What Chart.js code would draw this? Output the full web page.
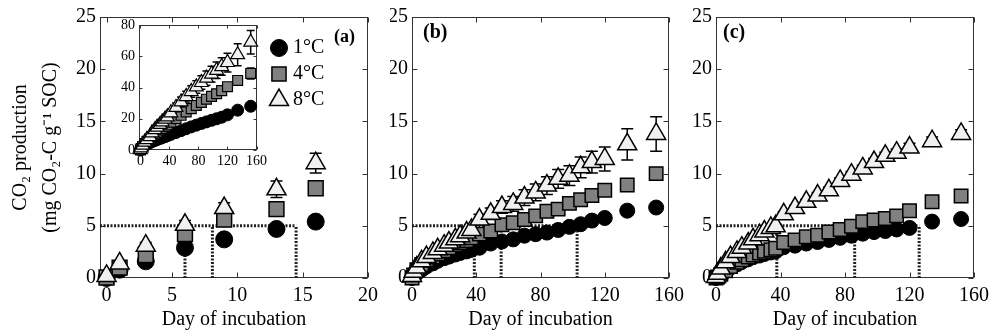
<!DOCTYPE html>
<html><head><meta charset="utf-8">
<script src="https://cdn.jsdelivr.net/npm/chart.js@4.4.0/dist/chart.umd.min.js"></script>
<style>
html,body{margin:0;padding:0;background:#fff;}
#wrap{position:relative;width:995px;height:336px;overflow:hidden;background:#fff;}
canvas{position:absolute;}
</style></head><body>
<div id="wrap">
<canvas id="ca" width="390" height="336" style="left:0;top:0"></canvas>
<canvas id="cb" width="300" height="336" style="left:390px;top:0"></canvas>
<canvas id="cc" width="305" height="336" style="left:690px;top:0"></canvas>
<canvas id="ci" width="160" height="160" style="left:110px;top:10px"></canvas>
</div>
<script>
// ---------- data ----------
const temps = ['1°C', '4°C', '8°C'];
const panelLabels = ['(a)', '(b)', '(c)'];
const yTitle = ['CO₂ production', '(mg CO₂-C g⁻¹ SOC)'];
const xTitle = 'Day of incubation';
const threshold = 5;

const xTicksA = [0, 5, 10, 15, 20];
const xTicksBC = [0, 40, 80, 120, 160];
const yTicks = [0, 5, 10, 15, 20, 25];
const xTicksInset = [0, 40, 80, 120, 160];
const yTicksInset = [0, 20, 40, 60, 80];

// panel (a): first 16 days
const daysA = [0, 1, 3, 6, 9, 13, 16];
const a1 = [0, 0.8, 1.6, 2.9, 3.7, 4.7, 5.4];
const a4 = [0.05, 1.0, 2.2, 4.2, 5.6, 6.6, 8.6];
const a8 = [0.2, 1.4, 3.1, 5.1, 6.7, 8.5, 11.0];
const a8err = [0.1, 0.2, 0.3, 0.4, 0.5, 0.8, 0.95];
const reachA = [6.0, 8.1, 14.5];

// full incubation days
const days = [0, 1, 3, 6, 9, 13, 16, 20, 23, 27, 30, 34, 37, 42, 49, 56, 63, 70, 77, 84, 91, 98, 105, 112, 120, 134, 152];

// inset of (a)
const ins1 = [0, 0.8, 1.6, 2.9, 3.7, 4.7, 5.4, 6.1, 6.7, 7.4, 7.9, 8.6, 9.1, 10.0, 11.2, 12.4, 13.6, 14.8, 15.9, 17.0, 18.0, 19.0, 20.0, 21.0, 22.5, 25.5, 28.0];
const ins4 = [0.05, 1.0, 2.2, 4.2, 5.6, 6.6, 8.6, 10.3, 11.5, 12.8, 13.8, 15.0, 16.0, 17.8, 20.0, 22.2, 24.4, 26.5, 28.5, 30.5, 32.5, 34.3, 36.0, 38.0, 40.5, 44.5, 49.0];
const ins8 = [0.2, 1.4, 3.1, 5.1, 6.7, 8.5, 11.0, 13.0, 14.6, 16.4, 18.0, 19.8, 21.2, 23.8, 27.3, 30.8, 34.2, 37.4, 40.4, 43.2, 46.0, 48.6, 51.0, 53.4, 56.0, 61.0, 69.0];
const ins4err = [0, 0.1, 0.2, 0.3, 0.3, 0.4, 0.5, 0.6, 0.6, 0.7, 0.7, 0.8, 0.8, 0.9, 1.0, 1.1, 1.2, 1.3, 1.4, 1.5, 1.6, 1.7, 1.8, 2.0, 2.2, 3.0, 3.5];
const ins8err = [0.1, 0.3, 0.4, 0.5, 0.6, 0.8, 1.0, 1.2, 1.4, 1.6, 1.8, 2.0, 2.2, 2.5, 2.8, 3.1, 3.4, 3.7, 4.0, 4.3, 4.6, 5.0, 5.3, 5.6, 6.0, 7.0, 7.5];

// panel (b)
const b1 = [0, 0.15, 0.45, 0.8, 1.1, 1.4, 1.65, 1.9, 2.05, 2.25, 2.4, 2.55, 2.7, 2.9, 3.3, 3.5, 3.7, 4.05, 4.2, 4.35, 4.6, 4.9, 5.15, 5.5, 5.75, 6.45, 6.75];
const b4 = [0, 0.3, 0.8, 1.3, 1.7, 2.0, 2.3, 2.6, 2.9, 3.2, 3.4, 3.6, 3.85, 4.2, 4.5, 5.1, 5.3, 5.6, 5.95, 6.4, 6.6, 7.15, 7.5, 7.9, 8.4, 8.9, 10.0];
const b8 = [0.2, 0.6, 1.0, 1.6, 2.0, 2.4, 2.75, 3.1, 3.4, 3.7, 4.0, 4.35, 4.6, 5.6, 6.15, 6.8, 7.1, 7.7, 8.2, 8.85, 9.5, 9.8, 10.6, 11.1, 11.4, 12.8, 13.8];
const b8err = [0.05, 0.1, 0.15, 0.2, 0.2, 0.25, 0.25, 0.3, 0.3, 0.3, 0.35, 0.35, 0.4, 0.5, 0.55, 0.6, 0.7, 0.75, 0.8, 0.85, 0.9, 0.95, 1.0, 1.05, 1.15, 1.5, 1.65];
const reachB = [38.8, 55.5, 102.8];

// panel (c)
const c1 = [0, 0.1, 0.3, 0.65, 1.0, 1.3, 1.55, 1.8, 2.0, 2.15, 2.3, 2.45, 2.55, 2.95, 3.1, 3.3, 3.45, 3.65, 3.85, 4.05, 4.25, 4.4, 4.5, 4.65, 4.8, 5.4, 5.65];
const c4 = [0, 0.1, 0.35, 0.7, 1.1, 1.5, 1.75, 2.0, 2.2, 2.4, 2.55, 2.7, 2.85, 3.4, 3.65, 3.95, 4.1, 4.4, 4.65, 4.95, 5.4, 5.55, 5.7, 5.95, 6.45, 7.3, 7.85];
const c8 = [0.1, 0.4, 0.9, 1.5, 2.0, 2.5, 2.9, 3.3, 3.7, 4.1, 4.45, 4.8, 4.95, 6.1, 6.7, 7.3, 7.9, 8.4, 9.3, 9.9, 10.5, 11.1, 11.7, 12.0, 12.5, 13.1, 13.8];
const c8err = [0.05, 0.05, 0.1, 0.1, 0.1, 0.15, 0.15, 0.15, 0.2, 0.2, 0.2, 0.2, 0.2, 0.25, 0.25, 0.25, 0.3, 0.3, 0.3, 0.3, 0.3, 0.35, 0.35, 0.35, 0.4, 0.4, 0.4];
const reachC = [37.7, 86.0, 126.0];

// ---------- rendering ----------
const FONT = "'Liberation Serif','Times New Roman',serif";
Chart.defaults.font.family = FONT;
Chart.defaults.color = '#000';

const pts = (xs, ys) => xs.map((d, i) => ({x: d, y: ys[i]}));

function markerSets(xs, v1, v4, v8, sz, e4, e8) {
  return [
    {label: temps[0], data: pts(xs, v1), pointStyle: 'circle', pointRadius: sz.c, backgroundColor: '#000', borderColor: '#000', borderWidth: 1, order: 3, showLine: false, clip: false},
    {label: temps[1], data: pts(xs, v4), pointStyle: 'rect', pointRadius: sz.s, backgroundColor: '#808080', borderColor: '#000', borderWidth: sz.bw, order: 2, showLine: false, clip: false, errors: e4, cap: sz.cap},
    {label: temps[2], data: pts(xs, v8), pointStyle: 'triangle', pointRadius: sz.t, backgroundColor: '#f0f0f0', borderColor: '#000', borderWidth: sz.bw, order: 1, showLine: false, clip: false, errors: e8, cap: sz.cap}
  ];
}

function dashSets(reach, xmin) {
  const segs = [[{x: xmin, y: threshold}, {x: Math.max(...reach), y: threshold}]];
  reach.forEach(r => segs.push([{x: r, y: 0}, {x: r, y: threshold}]));
  return segs.map(s => ({label: '', data: s, type: 'line', showLine: true, borderColor: '#222', borderWidth: 3, borderDash: [2, 1.5], pointRadius: 0, order: 5, clip: false}));
}

const frame = {
  id: 'frame',
  beforeDatasetsDraw(chart, args, o) {
    const {ctx, chartArea: a, scales: {x, y}} = chart;
    ctx.save();
    if (o.bg) { ctx.fillStyle = '#fff'; ctx.fillRect(a.left, a.top, a.right - a.left, a.bottom - a.top); }
    ctx.strokeStyle = '#333'; ctx.lineWidth = 1;
    const L = Math.round(a.left) + 0.5, R = Math.round(a.right) - 0.5, T = Math.round(a.top) + 0.5, B = Math.round(a.bottom) - 0.5;
    ctx.strokeRect(L, T, R - L, B - T);
    const tl = o.tick || 5;
    ctx.beginPath();
    o.xt.forEach(v => { const p = Math.round(x.getPixelForValue(v)) + 0.5; ctx.moveTo(p, B); ctx.lineTo(p, B - tl); ctx.moveTo(p, T); ctx.lineTo(p, T + tl); });
    o.yt.forEach(v => { const p = Math.round(y.getPixelForValue(v)) + 0.5; ctx.moveTo(L, p); ctx.lineTo(L + tl, p); ctx.moveTo(R, p); ctx.lineTo(R - tl, p); });
    ctx.stroke();
    ctx.restore();
  }
};

const errbars = {
  id: 'errbars',
  beforeDatasetDraw(chart, args) {
    const ds = chart.data.datasets[args.index];
    if (!ds.errors) return;
    const {ctx} = chart, x = chart.scales.x, y = chart.scales.y;
    ctx.save(); ctx.strokeStyle = '#000'; ctx.lineWidth = 1.5;
    ds.data.forEach((p, i) => {
      const e = ds.errors[i]; if (!e) return;
      const px = x.getPixelForValue(p.x), y1 = y.getPixelForValue(p.y + e), y2 = y.getPixelForValue(p.y - e), c = ds.cap || 5;
      ctx.beginPath();
      ctx.moveTo(px, y1); ctx.lineTo(px, y2);
      ctx.moveTo(px - c, y1); ctx.lineTo(px + c, y1);
      ctx.moveTo(px - c, y2); ctx.lineTo(px + c, y2);
      ctx.stroke();
    });
    ctx.restore();
  }
};

const annot = {
  id: 'annot',
  afterDraw(chart, args, o) {
    const {ctx} = chart;
    ctx.save();
    if (o.label) {
      ctx.font = 'bold ' + o.label.size + 'px ' + FONT;
      ctx.fillStyle = '#000'; ctx.textAlign = 'left'; ctx.textBaseline = 'middle';
      ctx.fillText(o.label.text, o.label.x, o.label.y);
    }
    if (o.legend) {
      const lg = o.legend;
      chart.data.datasets.filter(d => d.label).forEach((ds, i) => {
        const yy = lg.y + i * lg.dy;
        ctx.fillStyle = ds.backgroundColor; ctx.strokeStyle = ds.borderColor; ctx.lineWidth = ds.borderWidth;
        Chart.helpers.drawPoint(ctx, {pointStyle: ds.pointStyle, radius: lg.r[i], rotation: 0, borderWidth: ds.borderWidth}, lg.x, yy);
        ctx.fillStyle = '#000';
        ctx.font = lg.size + 'px ' + FONT; ctx.textAlign = 'left'; ctx.textBaseline = 'middle';
        ctx.fillText(ds.label, lg.tx, yy);
      });
    }
    ctx.restore();
  }
};

function makeChart(id, c) {
  return new Chart(document.getElementById(id), {
    type: 'scatter',
    data: {datasets: c.datasets},
    plugins: [frame, errbars, annot],
    options: {
      responsive: false, animation: false, events: [],
      layout: {padding: c.pad},
      plugins: {legend: {display: false}, tooltip: {enabled: false},
        frame: {xt: c.xt, yt: c.yt, tick: c.tick, bg: c.bg}, annot: c.annot || {}},
      scales: {
        x: {type: 'linear', min: c.xmin, max: c.xmax,
          afterBuildTicks: s => { s.ticks = c.xt.map(v => ({value: v})); },
          afterFit: s => { s.height = c.xh; },
          grid: {display: false, drawTicks: false}, border: {display: false},
          ticks: {font: {size: c.fs}, padding: c.xpad, maxRotation: 0, autoSkip: false},
          title: c.xtitle ? {display: true, text: xTitle, font: {size: 20}, padding: {top: 0, bottom: 4}} : {display: false}},
        y: {type: 'linear', min: c.ymin, max: c.ymax,
          afterBuildTicks: s => { s.ticks = c.yt.map(v => ({value: v})); },
          afterFit: s => { s.width = c.yw; },
          grid: {display: false, drawTicks: false}, border: {display: false},
          ticks: {font: {size: c.fs}, padding: c.ypad, autoSkip: false},
          title: c.ytitle ? {display: true, text: yTitle, font: {size: 20, lineHeight: 1.5}, padding: {top: 6, bottom: 0}} : {display: false}}
      }
    }
  });
}

const big = {c: 8.5, s: 10.5, t: 11, bw: 1.5, cap: 6};
const mid = {c: 7.5, s: 9.5, t: 11, bw: 1.5, cap: 6};

makeChart('ca', {
  datasets: [...dashSets(reachA, -0.5), ...markerSets(daysA, a1, a4, a8, big, null, a8err)],
  xmin: -0.5, xmax: 20, ymin: 0, ymax: 25, xt: xTicksA, yt: yTicks,
  pad: {left: 0, right: 22, top: 17, bottom: 0}, yw: 100, xh: 58, fs: 20, xpad: 6, ypad: 4,
  xtitle: true, ytitle: true,
  annot: {label: {text: panelLabels[0], x: 334, y: 37, size: 18},
          legend: {x: 279, y: 48, dy: 26, tx: 293, size: 20, r: [8.5, 10, 11]}}
});

makeChart('cb', {
  datasets: [...dashSets(reachB, 0), ...markerSets(days, b1, b4, b8, mid, null, b8err)],
  xmin: 0, xmax: 160, ymin: 0, ymax: 25, xt: xTicksBC, yt: yTicks,
  pad: {left: 0, right: 17, top: 17, bottom: 0}, yw: 22, xh: 58, fs: 20, xpad: 6, ypad: 4,
  xtitle: true, ytitle: false,
  annot: {label: {text: panelLabels[1], x: 33, y: 33, size: 20}}
});

makeChart('cc', {
  datasets: [...dashSets(reachC, 0), ...markerSets(days, c1, c4, c8, mid, null, c8err)],
  xmin: 0, xmax: 160, ymin: 0, ymax: 25, xt: xTicksBC, yt: yTicks,
  pad: {left: 0, right: 16, top: 17, bottom: 0}, yw: 26, xh: 58, fs: 20, xpad: 6, ypad: 4,
  xtitle: true, ytitle: false,
  annot: {label: {text: panelLabels[2], x: 33, y: 33, size: 20}}
});

makeChart('ci', {
  datasets: markerSets(days, ins1, ins4, ins8, {c: 6, s: 7, t: 8, bw: 1.2, cap: 4}, ins4err, ins8err),
  xmin: -2, xmax: 160, ymin: 0, ymax: 80, xt: xTicksInset, yt: yTicksInset,
  pad: {left: 0, right: 8, top: 15, bottom: 0}, yw: 29, xh: 20, fs: 14, xpad: 3, ypad: 4, tick: 3, bg: true,
  xtitle: false, ytitle: false
});
</script>
</body></html>
